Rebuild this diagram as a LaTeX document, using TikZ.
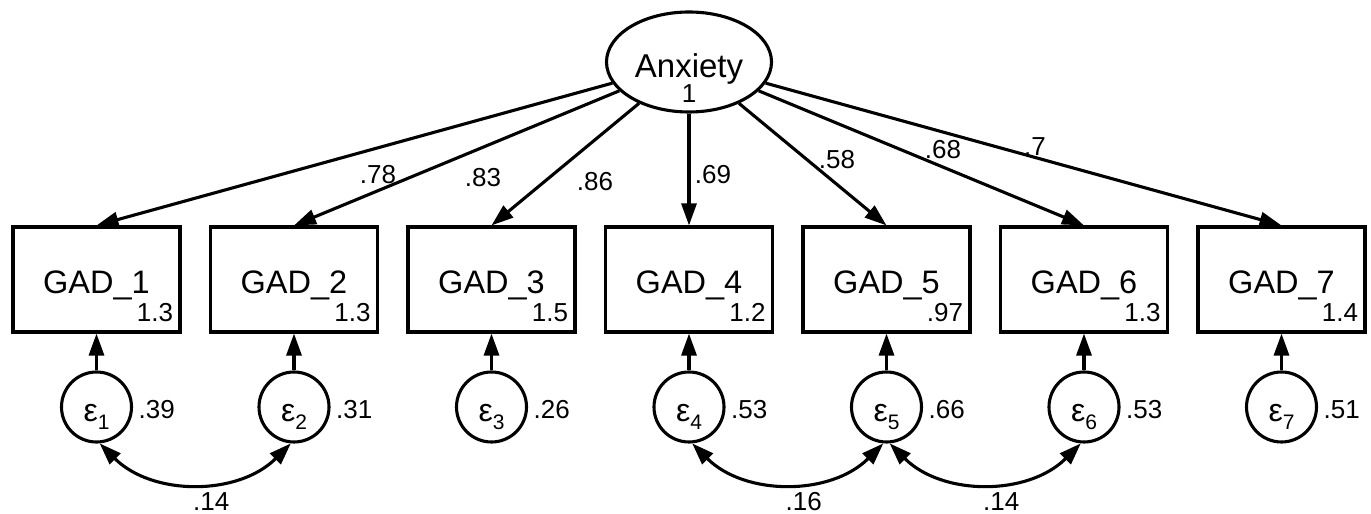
\documentclass[tikz,border=0pt]{standalone}
\usepackage{fontspec}
\setmainfont{Liberation Sans}
\usetikzlibrary{shapes.geometric,arrows.meta}
\begin{document}
\begin{tikzpicture}[x=1pt,y=1pt,
  line width=3.1pt,
  >={Triangle[length=22pt,width=15pt]},
  obs/.style={draw, rectangle, minimum width=167pt, minimum height=105pt, inner sep=0pt,
    text height=28pt, text depth=0pt, font=\fontsize{32.5}{36}\selectfont},
  err/.style={draw, circle, minimum size=70pt, inner sep=0pt,
    text height=30pt, text depth=0pt, font=\fontsize{32}{36}\selectfont},
  lat/.style={draw, ellipse, minimum width=165pt, minimum height=100pt, inner sep=0pt,
    text height=32pt, text depth=0pt, font=\fontsize{33}{36}\selectfont},
  num/.style={font=\fontsize{26}{30}\selectfont, inner sep=0pt},
]
\useasboundingbox (0,0) rectangle (1371,514);

% latent variable
\node[lat] (anx) at (689,452) {Anxiety};
\node[num, anchor=base] (anxvar) at ([yshift=-41pt]anx.center) {1};

% observed variables, errors
\foreach \i/\v/\ev in {1/1.3/.39, 2/1.3/.31, 3/1.5/.26, 4/1.2/.53, 5/.97/.66, 6/1.3/.53, 7/1.4/.51} {
  \pgfmathsetmacro\xx{96.5+197.5*(\i-1)}
  \node[obs] (g\i) at (\xx,234.5) {GAD\_\i};
  \node[num, anchor=base east] (gv\i) at ([xshift=-7pt,yshift=12pt]g\i.south east) {\v};
  \node[err] (e\i) at (\xx,107) {ε\raisebox{-8pt}{\fontsize{21}{21}\selectfont\i}};
  \node[num, anchor=west] (ev\i) at ([xshift=4pt,yshift=-3pt]e\i.east) {\ev};
  \draw[->] (e\i) -- (g\i);
  \draw[->] (anx) -- (g\i.north);
}

% loading labels
\node[num] (l1) at (378,339) {.78};
\node[num] (l2) at (483,336) {.83};
\node[num] (l3) at (595,332) {.86};
\node[num] (l4) at (713,339) {.69};
\node[num] (l5) at (837,354) {.58};
\node[num] (l6) at (943,364) {.68};
\node[num] (l7) at (1035,367) {.7};

% covariances
\draw[<->] (e1.-85) to[out=-45,in=-135]
  node[num, pos=0.5, yshift=-19pt, xshift=16pt] (c12) {.14} (e2.-95);
\draw[<->] (e4.-85) to[out=-45,in=-135]
  node[num, pos=0.5, yshift=-19pt, xshift=16pt] (c45) {.16} (e5.-95);
\draw[<->] (e5.-85) to[out=-45,in=-135]
  node[num, pos=0.5, yshift=-19pt, xshift=16pt] (c56) {.14} (e6.-95);
\end{tikzpicture}
\end{document}
